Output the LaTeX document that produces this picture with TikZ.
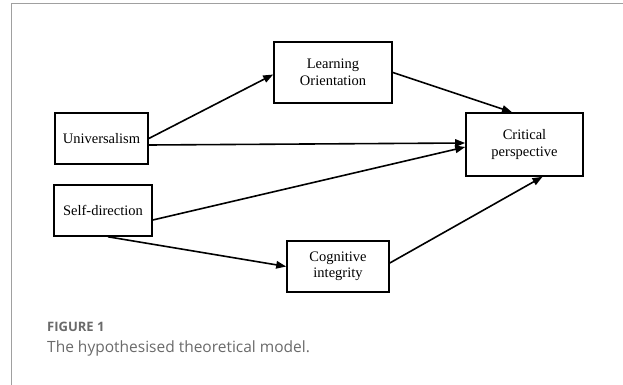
\documentclass[tikz,border=0pt]{standalone}
\usepackage{fontspec}
\setmainfont{Liberation Serif}
\newfontfamily\capfont{Open Sans}
\usetikzlibrary{arrows.meta}
\usetikzlibrary{calc}
\usepackage{xcolor}
\definecolor{framegray}{HTML}{A0A0A0}
\definecolor{capgray}{HTML}{6A6A6A}

\begin{document}
\begin{tikzpicture}[x=1pt,y=-1pt,
    box/.style={draw,line width=1.6pt,align=center,inner sep=2pt,font=\fontsize{14.5}{16.5}\selectfont},
    link/.style={line width=1.6pt,-{Triangle[length=10pt,width=7.5pt]}}]
      \useasboundingbox (0,0) rectangle (623,385);

      % Frame
      \draw[framegray,line width=1pt] (623,4) -- (11,4) -- (11,385);

      % Boxes
      \node[box,minimum width=118pt,minimum height=61pt] (learn) at (333,72.5) {Learning\\Orientation};
      \node[box,minimum width=93pt,minimum height=51pt] (univ) at (101.5,138.5) {Universalism};
      \node[box,minimum width=98pt,minimum height=51pt] (self) at (103,210.5) {Self-direction};
      \node[box,minimum width=102pt,minimum height=51pt] (cogn) at (338,266.5) {Cognitive\\integrity};
      \node[box,minimum width=117pt,minimum height=63pt] (crit) at (524.5,144.5) {Critical\\perspective};

      % Paths
      \draw[link] (univ.east) -- ([yshift=-2pt]learn.west);
      \draw[link] ([yshift=-6.5pt]univ.east) -- ([yshift=1.5pt]crit.west);
      \draw[link] ([yshift=-9.5pt]self.east) -- ([yshift=-2.5pt]crit.west);
      \draw[link] ([xshift=5pt]self.south) -- (cogn.west);
      \draw[link] ([yshift=3.5pt]cogn.east) -- ([xshift=18pt]crit.south);
      \draw[link] (learn.east) -- ([xshift=-12.5pt]crit.north);

      % Caption
      \node[anchor=base west,inner sep=0,text=capgray,font=\capfont\bfseries\fontsize{13}{15}\selectfont] (fig) at (47,331) {FIGURE 1};
      \node[anchor=base west,inner sep=0,text=capgray,font=\capfont\fontsize{15.5}{18}\selectfont] (title) at (47,352) {The hypothesised theoretical model.};
\end{tikzpicture}
\end{document}
